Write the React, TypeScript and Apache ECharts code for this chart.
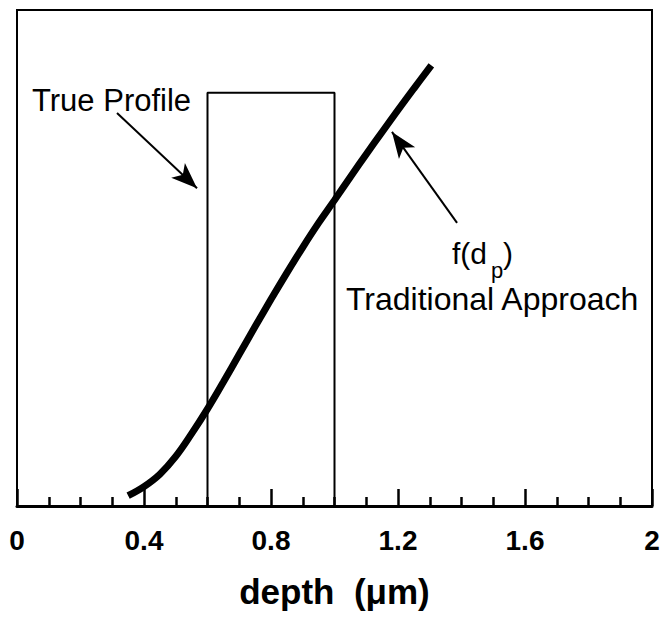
import React, { useEffect, useRef } from "react";
import * as echarts from "echarts";

const FONT = "'Liberation Sans', Arial, Helvetica, sans-serif";

// x tick labels (every 0.4 µm), minor ticks every 0.1
const xTicks = [0, 0.4, 0.8, 1.2, 1.6, 2];

// True profile: a box from 0.6 to 1.0 µm of unit height
const profileDepth = [0.6, 0.6, 1.0, 1.0];
const profileValue = [0, 1, 1, 0];

// f(dp) traditional approach curve
const curveDepth = [0.35, 0.4, 0.45, 0.5, 0.55, 0.6, 0.65, 0.7, 0.75, 0.8, 0.85, 0.9, 0.95, 1.0, 1.05, 1.1, 1.15, 1.2, 1.25, 1.305];
const curveValue = [0.025, 0.047, 0.077, 0.12, 0.175, 0.235, 0.3, 0.367, 0.434, 0.5, 0.564, 0.626, 0.685, 0.74, 0.796, 0.851, 0.905, 0.958, 1.01, 1.066];

// annotation arrows in data coordinates: [tailX, tailY, tipX, tipY]
const arrowTrue = [0.315, 0.951, 0.567, 0.769];
const arrowTrad = [1.386, 0.685, 1.181, 0.905];

export default function App() {
  const ref = useRef<HTMLDivElement>(null);
  useEffect(() => {
    if (!ref.current) return;
    const chart = echarts.init(ref.current, null, { renderer: "svg" });
    const arrowLine = (a: number[]) => [
      { coord: [a[0], a[1]], symbol: "none" },
      { coord: [a[2], a[3]], symbol: "arrow", symbolSize: [15, 26] },
    ];
    chart.setOption({
      animation: false,
      backgroundColor: "#fff",
      grid: {
        left: 17,
        right: 13,
        top: 10,
        bottom: 114,
        outerBoundsMode: "none",
        containLabel: false,
        show: true,
        borderColor: "#000",
        borderWidth: 2,
      },
      xAxis: {
        type: "value",
        min: xTicks[0],
        max: xTicks[xTicks.length - 1],
        interval: 0.4,
        axisLine: { show: true, onZero: false, lineStyle: { color: "#000", width: 3 } },
        axisTick: { show: true, inside: true, length: 17, lineStyle: { color: "#000", width: 2.5 } },
        minorTick: { show: true, splitNumber: 4, length: 9, lineStyle: { color: "#000", width: 2.5 } },
        splitLine: { show: false },
        minorSplitLine: { show: false },
        axisLabel: {
          color: "#000",
          fontSize: 28,
          fontWeight: "bold",
          fontFamily: FONT,
          margin: 20,
          formatter: (v: number) => String(v),
        },
        name: "depth  (\u03bcm)",
        nameLocation: "middle",
        nameGap: 68,
        nameTextStyle: { color: "#000", fontSize: 35, fontWeight: "bold", fontFamily: FONT },
      },
      yAxis: {
        type: "value",
        min: 0,
        max: 1.2,
        axisLine: { show: false },
        axisTick: { show: false },
        axisLabel: { show: false },
        splitLine: { show: false },
      },
      series: [
        {
          type: "line",
          data: profileDepth.map((d, i) => [d, profileValue[i]]),
          showSymbol: false,
          symbol: "none",
          lineStyle: { color: "#000", width: 2 },
          z: 2,
        },
        {
          type: "line",
          data: curveDepth.map((d, i) => [d, curveValue[i]]),
          showSymbol: false,
          symbol: "none",
          smooth: 0.4,
          lineStyle: { color: "#000", width: 7 },
          z: 3,
          markLine: {
            silent: true,
            animation: false,
            label: { show: false },
            lineStyle: { color: "#000", width: 2, type: "solid" },
            data: [arrowLine(arrowTrue), arrowLine(arrowTrad)],
          },
        },
      ],
      graphic: [
        {
          type: "text",
          left: 32,
          top: 85,
          style: { text: "True Profile", fontSize: 31, fontFamily: FONT, fill: "#000" },
        },
        {
          type: "text",
          left: 452,
          top: 238,
          style: { text: "f(d", fontSize: 30, fontFamily: FONT, fill: "#000" },
        },
        {
          type: "text",
          left: 491,
          top: 259,
          style: { text: "p", fontSize: 22, lineHeight: 18, fontFamily: FONT, fill: "#000" },
        },
        {
          type: "text",
          left: 503,
          top: 238,
          style: { text: ")", fontSize: 30, fontFamily: FONT, fill: "#000" },
        },
        {
          type: "text",
          left: 346,
          top: 283,
          style: { text: "Traditional Approach", fontSize: 32, lineHeight: 23, fontFamily: FONT, fill: "#000" },
        },
      ],
    });
    return () => chart.dispose();
  }, []);
  return (
    <div
      ref={ref}
      style={{ position: "absolute", left: 0, top: 0, width: 665, height: 620 }}
    />
  );
}
